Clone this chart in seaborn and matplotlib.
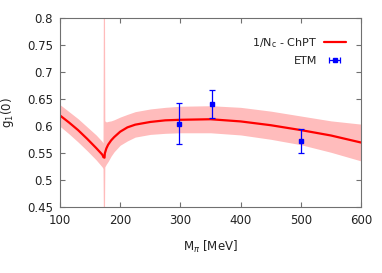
import numpy as np
import pandas as pd
import matplotlib
matplotlib.use("Agg")
import matplotlib.pyplot as plt
import seaborn as sns
from matplotlib.ticker import FormatStrFormatter, MultipleLocator

# 1/Nc - ChPT prediction (central value and error band)
m_pi = [100, 115, 130, 145, 160, 170, 171.5, 172, 174, 174.5, 177, 180, 185,
        190, 200, 212, 225, 250, 275, 300, 350, 400, 450, 500, 550, 600]
g1_central = [0.620, 0.607, 0.593, 0.577, 0.560, 0.548, 0.545, 0.543, 0.542,
              0.550, 0.559, 0.566, 0.574, 0.580, 0.590, 0.598, 0.603, 0.608,
              0.611, 0.612, 0.613, 0.609, 0.602, 0.593, 0.583, 0.570]
g1_upper = [0.640, 0.627, 0.614, 0.599, 0.584, 0.572, 0.569, 0.800, 0.800,
            0.610, 0.608, 0.609, 0.610, 0.612, 0.617, 0.622, 0.627, 0.632,
            0.635, 0.637, 0.638, 0.635, 0.628, 0.619, 0.610, 0.604]
g1_lower = [0.600, 0.586, 0.571, 0.555, 0.538, 0.525, 0.522, 0.450, 0.450,
            0.525, 0.530, 0.535, 0.545, 0.553, 0.565, 0.573, 0.580, 0.585,
            0.587, 0.588, 0.588, 0.584, 0.576, 0.566, 0.552, 0.536]

# ETM lattice points
etm_m = [298, 352, 500]
etm_g1 = [0.605, 0.641, 0.573]
etm_err = [0.038, 0.026, 0.022]

sns.set_style("ticks")
plt.rcParams.update({
    "font.family": ["DejaVu Sans"],
    "font.size": 8.5,
    "axes.edgecolor": "#707070",
    "axes.linewidth": 0.8,
    "xtick.color": "#707070",
    "ytick.color": "#707070",
    "xtick.labelcolor": "#222222",
    "ytick.labelcolor": "#222222",
    "text.color": "#222222",
    "axes.labelcolor": "#222222",
})

df = pd.DataFrame({"m": m_pi, "g1": g1_central})

fig = plt.figure(figsize=(3.82, 2.73), dpi=100)
ax = fig.add_axes([0.157, 0.24, 0.788, 0.694])

ax.fill_between(m_pi, g1_lower, g1_upper, color="#ffbcbc", linewidth=0)
sns.lineplot(data=df, x="m", y="g1", ax=ax, color="#ff0000", linewidth=1.6,
             label="1/N$_\\mathregular{c}$ - ChPT")

ax.errorbar(etm_m, etm_g1, yerr=etm_err, fmt="s", color="#0000ff",
            markersize=2.8, elinewidth=0.9, capsize=2.5, capthick=0.9)
# legend proxy drawn gnuplot style (horizontal bar with caps)
ax.errorbar([np.nan], [np.nan], xerr=[1], fmt="s", color="#0000ff",
            markersize=2.8, elinewidth=0.9, capsize=2.5, capthick=0.9,
            label="ETM")

ax.set_xlim(100, 600)
ax.set_ylim(0.45, 0.8)
ax.xaxis.set_major_locator(MultipleLocator(100))
ax.yaxis.set_major_locator(MultipleLocator(0.05))
ax.yaxis.set_major_formatter(FormatStrFormatter("%g"))
ax.tick_params(direction="in", top=True, right=True, length=3.5, width=0.8,
               pad=5)
for s in ax.spines.values():
    s.set_visible(True)

ax.set_xlabel("M$_\\pi$ [MeV]", labelpad=8)
ax.set_ylabel("g$_1$(0)", labelpad=8)

ax.legend(loc="upper right", bbox_to_anchor=(0.965, 0.93), frameon=False,
          markerfirst=False, fontsize=8, handlelength=2.0, handletextpad=0.6,
          labelspacing=0.55, borderaxespad=0)

fig.savefig("out.png", dpi=100)
